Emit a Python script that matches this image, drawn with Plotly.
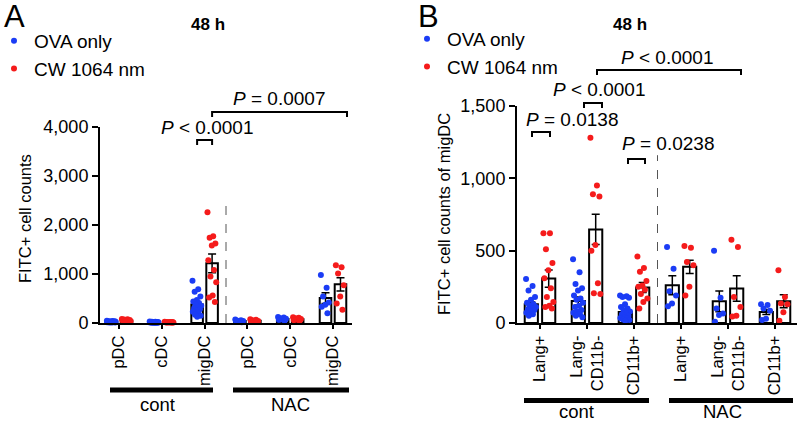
import numpy as np
import plotly.graph_objects as go

W, H = 800, 423
BLUE = "#1b3cf5"
RED = "#f51b1b"
FONT = "Arial, Liberation Sans, sans-serif"

# ---------------- Panel A data ----------------
a_categories = ["pDC", "cDC", "migDC", "pDC", "cDC", "migDC"]
a_group_labels = ["cont", "NAC"]
a_ova_points = [
    [45, 40, 38, 35, 33, 30, 28, 27, 25, 24, 22, 20, 18, 16, 15, 12, 10, 8],
    [30, 26, 24, 22, 20, 18, 16, 15, 14, 12, 11, 10, 9, 8, 7, 6, 5, 4],
    [860, 690, 640, 540, 470, 440, 410, 380, 350, 320, 300, 280, 250, 230, 200, 170, 150, 130],
    [70, 55, 45, 40, 30, 25, 15],
    [120, 110, 95, 85, 70, 60, 45],
    [980, 720, 540, 420, 370, 330, 200],
]
a_cw_points = [
    [80, 75, 70, 62, 55, 50, 45, 40, 35, 30, 28, 25],
    [25, 22, 20, 18, 16, 15, 14, 12, 10, 9, 8, 6],
    [2260, 1770, 1740, 1620, 1580, 1280, 1080, 950, 830, 560, 520, 430],
    [75, 65, 55, 40, 35, 25, 20],
    [115, 105, 95, 80, 65, 55, 40],
    [1180, 1140, 1010, 770, 540, 400, 270],
]
a_ova_mean = [30, 16, 378, 40, 84, 509]
a_ova_sem = [3, 2, 45, 8, 10, 110]
a_cw_mean = [50, 15, 1218, 45, 79, 790]
a_cw_sem = [6, 2, 190, 8, 10, 135]
a_yticks = [0, 1000, 2000, 3000, 4000]

# ---------------- Panel B data ----------------
b_categories = ["Lang+", "Lang-<br>CD11b-", "CD11b+", "Lang+", "Lang-<br>CD11b-", "CD11b+"]
b_group_labels = ["cont", "NAC"]
b_ova_points = [
    [305, 255, 225, 180, 160, 140, 130, 120, 110, 100, 95, 90, 80, 70, 60, 50],
    [440, 350, 270, 240, 225, 190, 170, 160, 140, 120, 110, 90, 80, 70, 60, 50, 40],
    [190, 185, 180, 175, 130, 110, 100, 90, 80, 70, 60, 50, 40, 35, 30, 25, 20, 15],
    [525, 375, 220, 190, 135, 115],
    [500, 175, 100, 65, 55, 8],
    [130, 125, 100, 85, 30, 20],
]
b_cw_points = [
    [620, 620, 510, 415, 365, 310, 240, 180, 145, 120, 110, 100],
    [1280, 950, 890, 875, 540, 500, 275, 205, 200],
    [460, 380, 355, 290, 260, 250, 230, 200, 170, 145, 100],
    [533, 520, 422, 400, 250, 190],
    [575, 525, 180, 110, 50, 45],
    [365, 180, 135, 130, 75, 15],
]
b_ova_mean = [130, 152, 76, 261, 150, 76]
b_ova_sem = [15, 28, 15, 65, 72, 18]
b_cw_mean = [307, 647, 245, 388, 238, 150]
b_cw_sem = [60, 105, 35, 45, 88, 45]
b_yticks = [0, 500, 1000, 1500]

series_names = ["OVA only", "CW 1064 nm"]


# ---------------- helpers (layout geometry only) ----------------
def py(p):
    """pixel row -> paper y"""
    return (H - p) / H


def px(p):
    return p / W


def xa(p):
    return (p - 119) / 42.8


def xb(p):
    return (p - 540) / 47.0


def jitter(n, spread):
    k = np.arange(n)
    return ((k * 0.618034) % 1.0 - 0.5) * spread


def point_xy(points, off, spread):
    xs = np.concatenate([np.full(len(v), i + off) + jitter(len(v), spread) for i, v in enumerate(points)])
    ys = np.concatenate([np.asarray(v, float) for v in points])
    return xs, ys


fig = go.Figure()

A_OFF, A_W = 0.175, 0.27
B_OFF, B_W = 0.185, 0.28

panels = [
    ("x", "y", "legend", a_ova_mean, a_ova_sem, a_cw_mean, a_cw_sem, a_ova_points, a_cw_points, A_OFF, A_W),
    ("x2", "y2", "legend2", b_ova_mean, b_ova_sem, b_cw_mean, b_cw_sem, b_ova_points, b_cw_points, B_OFF, B_W),
]

for xr, yr, leg, om, osem, cm, csem, op, cp, off, bw in panels:
    n = len(om)
    for mean, sem, sign in [(om, osem, -1), (cm, csem, 1)]:
        fig.add_trace(go.Bar(
            x=np.arange(n) + sign * off, y=mean, width=bw,
            marker=dict(color="white", line=dict(color="black", width=2)),
            error_y=dict(type="data", array=sem, visible=True, color="black", thickness=1.5, width=4),
            xaxis=xr, yaxis=yr, showlegend=False, hoverinfo="skip",
        ))
    for pts, sign, col, name in [(op, -1, BLUE, series_names[0]), (cp, 1, RED, series_names[1])]:
        xs, ys = point_xy(pts, sign * off, bw * 0.8)
        fig.add_trace(go.Scatter(
            x=xs, y=ys, mode="markers", name=name,
            marker=dict(color=col, size=6, line=dict(width=0)),
            xaxis=xr, yaxis=yr, legend=leg, showlegend=True, cliponaxis=False,
        ))

axis_common = dict(showgrid=False, zeroline=False, showline=True, linecolor="black", linewidth=2,
                   ticks="outside", tickcolor="black", color="black", automargin=False)

fig.update_layout(
    width=W, height=H, margin=dict(l=0, r=0, t=0, b=0, pad=0, autoexpand=False),
    paper_bgcolor="white", plot_bgcolor="white",
    font=dict(family=FONT, color="black"),
    barmode="overlay",
    xaxis=dict(domain=[px(100), px(352)], range=[xa(100), xa(352)], anchor="y",
               tickvals=list(range(6)), ticktext=a_categories, tickangle=-90,
               ticklen=4, tickwidth=1.5, tickfont=dict(size=16.5), **axis_common),
    yaxis=dict(domain=[py(323), py(127)], range=[0, 4000], anchor="x",
               tickvals=a_yticks, tickformat=",d", ticklen=6, tickwidth=2,
               tickfont=dict(size=18), **axis_common),
    xaxis2=dict(domain=[px(517), px(797)], range=[xb(517), xb(797)], anchor="y2",
                tickvals=list(range(6)), ticktext=b_categories, tickangle=-90,
                ticklen=4, tickwidth=1.5, tickfont=dict(size=16.5), **axis_common),
    yaxis2=dict(domain=[py(323), py(106)], range=[0, 1500], anchor="x2",
                tickvals=b_yticks, tickformat=",d", ticklen=6, tickwidth=2,
                tickfont=dict(size=18), **axis_common),
    legend=dict(x=px(-6), y=py(22), xanchor="left", yanchor="top", font=dict(size=19),
                bgcolor="rgba(0,0,0,0)", itemwidth=30, tracegroupgap=0),
    legend2=dict(x=px(407), y=py(20), xanchor="left", yanchor="top", font=dict(size=19),
                 bgcolor="rgba(0,0,0,0)", itemwidth=30, tracegroupgap=0),
)

ann = []


def add_text(x, y, text, size=19, xref="paper", **kw):
    ann.append(dict(x=x, y=y, xref=xref, yref="paper", text=text, showarrow=False,
                    xanchor="center", yanchor="middle",
                    font=dict(size=size, family=FONT, color="black"), **kw))


# panel letters and titles
add_text(px(14), py(16), "A", size=31)
add_text(px(428), py(16), "B", size=31)
add_text(px(208), py(25), "<b>48 h</b>", size=17)
add_text(px(630), py(25), "<b>48 h</b>", size=17)
# y titles
add_text(px(25), py(219), "FITC+ cell counts", size=16.5, textangle=-90)
add_text(px(444), py(214), "FITC+ cell counts of migDC", size=16.5, textangle=-90)
# group labels
add_text(px(157), py(404), a_group_labels[0], size=18.5)
add_text(px(290), py(404), a_group_labels[1], size=18.5)
add_text(px(576), py(411), b_group_labels[0], size=18.5)
add_text(px(722), py(411), b_group_labels[1], size=18.5)
# p-values
add_text(px(207), py(127), "<i>P</i> &lt; 0.0001")
add_text(px(279), py(98), "<i>P</i> = 0.0007")
add_text(px(667), py(58), "<i>P</i> &lt; 0.0001")
add_text(px(599), py(90), "<i>P</i> &lt; 0.0001")
add_text(px(572), py(120), "<i>P</i> = 0.0138")
add_text(px(668), py(143), "<i>P</i> = 0.0238")

shapes = []


def bracket(xref, x0, x1, ypix, leg=5):
    yt, yb = py(ypix), py(ypix + leg)
    shapes.append(dict(type="path", xref=xref, yref="paper",
                       path=f"M {x0},{yb} L {x0},{yt} L {x1},{yt} L {x1},{yb}",
                       line=dict(color="black", width=2)))


bracket("x", 2 - A_OFF, 2 + A_OFF, 140)
bracket("x", 2 + A_OFF, xa(347), 112)
bracket("x2", xb(597), xb(741), 70)
bracket("x2", xb(584), xb(602), 103)
bracket("x2", xb(532), xb(550), 132)
bracket("x2", xb(628), xb(645), 159)

# group underline bars
for xref, x0, x1, yp in [("x", xa(110), xa(213), 390), ("x", xa(233), xa(349), 390),
                         ("x2", xb(524), xb(649), 400.5), ("x2", xb(669), xb(793), 400.5)]:
    shapes.append(dict(type="line", xref=xref, yref="paper", x0=x0, x1=x1, y0=py(yp), y1=py(yp),
                       line=dict(color="black", width=5)))

# dashed separators
shapes.append(dict(type="line", xref="x", yref="y", x0=2.5, x1=2.5, y0=0, y1=2500,
                   line=dict(color="#555555", width=1, dash="dash")))
shapes.append(dict(type="line", xref="x2", yref="y2", x0=2.5, x1=2.5, y0=0, y1=1160,
                   line=dict(color="#555555", width=1, dash="dash")))

fig.update_layout(annotations=ann, shapes=shapes)
fig.write_html("out.html", config={"displayModeBar": False},
               post_script="document.body.style.margin='0';document.body.style.overflow='hidden';")
